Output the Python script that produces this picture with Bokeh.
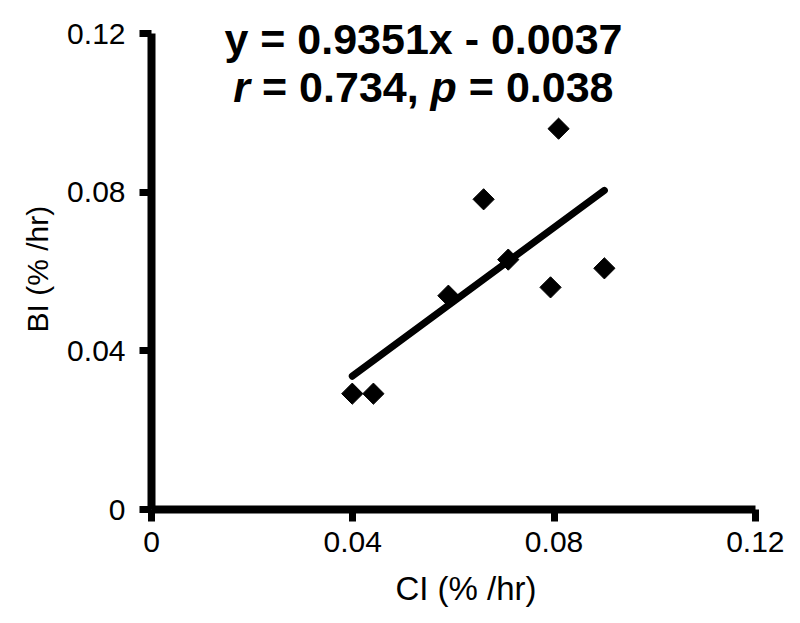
import math
from bokeh.plotting import figure
from bokeh.models import FixedTicker, Title
from bokeh.core.properties import value
from bokeh.embed import file_html
from bokeh.resources import INLINE

# ---- data ----
ci = [0.0399, 0.0441, 0.0590, 0.0660, 0.0709, 0.0793, 0.0809, 0.0900]
bi = [0.0292, 0.0292, 0.0539, 0.0782, 0.0630, 0.0560, 0.0960, 0.0608]
slope = 0.9351
intercept = -0.0037
r_value = 0.734
p_value = 0.038
ticks = [0, 0.04, 0.08, 0.12]
tick_labels = ["0", "0.04", "0.08", "0.12"]
x_label = "CI (% /hr)"
y_label = "BI (% /hr)"

FONT = "Liberation Sans"
TITLE_PX = 43

p = figure(width=792, height=615, x_range=(0, 0.125), y_range=(0, 0.12832),
           output_backend="svg", toolbar_location=None,
           min_border_left=151, min_border_right=12,
           min_border_top=0, min_border_bottom=106)
p.outline_line_color = None
p.grid.visible = False
p.background_fill_color = "white"
p.border_fill_color = "white"

for ax in (p.xaxis[0], p.yaxis[0]):
    ax.ticker = FixedTicker(ticks=ticks, minor_ticks=[])
    ax.major_label_overrides = {t: l for t, l in zip(ticks, tick_labels)}
    ax.bounds = (0, 0.12)
    ax.axis_line_width = 8
    ax.axis_line_color = "black"
    ax.major_tick_line_width = 7
    ax.major_tick_line_color = "black"
    ax.major_tick_out = 12
    ax.major_tick_in = 0
    ax.minor_tick_out = 0
    ax.minor_tick_in = 0
    ax.major_label_text_font = FONT
    ax.major_label_text_font_size = "30px"
    ax.major_label_text_color = "black"

p.yaxis[0].major_label_standoff = 14
p.xaxis[0].major_label_standoff = 10
p.xaxis[0].axis_label = x_label
p.xaxis[0].axis_label_text_font = FONT
p.xaxis[0].axis_label_text_font_size = "33px"
p.xaxis[0].axis_label_text_font_style = "normal"
p.xaxis[0].axis_label_text_color = "black"
p.xaxis[0].axis_label_standoff = 15

ytitle = Title(text=y_label, align="left", offset=177, standoff=21,
               text_font=FONT, text_font_size="30px", text_font_style="normal",
               text_color="black")
p.add_layout(ytitle, "left")

# points
p.scatter(ci, bi, marker="square", angle=math.pi / 4, size=15,
          fill_color="black", line_color="black", line_width=1)

# regression line
xs = [min(ci), max(ci)]
ys = [slope * x + intercept for x in xs]
p.line(xs, ys, line_width=7, line_color="black", line_cap="round")

# equation text
cx = 0.05404
y1, y2 = 0.1187, 0.1064
line1 = f"y = {slope:.4f}x - {abs(intercept):.4f}"
p.text(x=[cx], y=[y1], text=[line1], text_font=value(FONT),
       text_font_size=f"{TITLE_PX}px", text_font_style="bold", text_align="center",
       text_baseline="alphabetic", text_color="black")

W = {c: 0.556 for c in "0123456789"}
W.update({".": 0.278, ",": 0.278, " ": 0.278, "=": 0.584, "r": 0.389, "p": 0.611})
def width(s):
    return sum(W[c] for c in s) * TITLE_PX

SP = W[" "] * TITLE_PX
pieces = [("r", True), (f"= {r_value:.3f},", False), ("p", True), (f"= {p_value:.3f}", False)]
total = sum(width(s) for s, _ in pieces) + SP * (len(pieces) - 1)
off = -total / 2
it_t, it_o, nm_t, nm_o = [], [], [], []
for s, ital in pieces:
    (it_t if ital else nm_t).append(s)
    (it_o if ital else nm_o).append(off)
    off += width(s) + SP
p.text(x=[cx] * len(it_t), y=[y2] * len(it_t), text=it_t, x_offset=it_o,
       text_font=value(FONT), text_font_size=f"{TITLE_PX}px", text_font_style="bold italic",
       text_align="left", text_baseline="alphabetic", text_color="black")
p.text(x=[cx] * len(nm_t), y=[y2] * len(nm_t), text=nm_t, x_offset=nm_o,
       text_font=value(FONT), text_font_size=f"{TITLE_PX}px", text_font_style="bold",
       text_align="left", text_baseline="alphabetic", text_color="black")

open("out.html", "w").write(file_html(p, INLINE))
